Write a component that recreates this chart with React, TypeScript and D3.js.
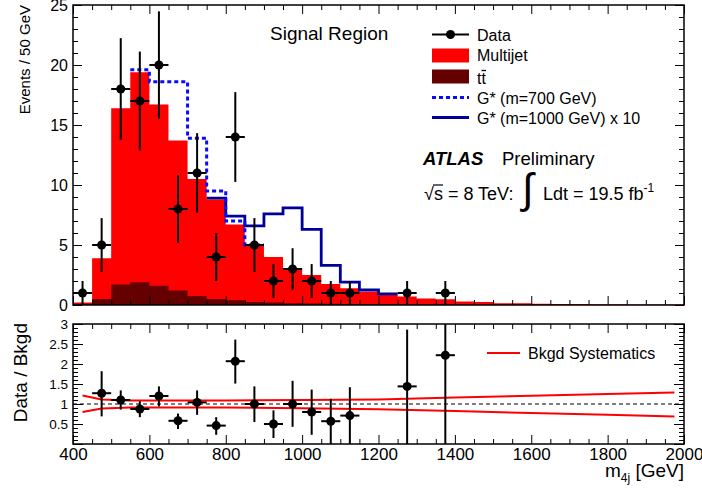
import React, { useRef, useEffect } from 'react';
import * as d3 from 'd3';

const FONT = '"Liberation Sans", Arial, Helvetica, sans-serif';

// 50 GeV bins, 400 - 2000 GeV. total background = multijet stacked on ttbar
const bkgTotal = [0.2, 3.9, 16.4, 19.4, 16.7, 13.7, 10.5, 8.8, 6.7, 5.0, 4.0, 2.97, 2.5, 1.75, 1.4, 1.1,
    0.85, 0.7, 0.55, 0.47, 0.3, 0.25, 0.15, 0.14, 0.11, 0.09, 0.08, 0.07, 0.06, 0.05, 0.05, 0.04];
const ttbar = [0.1, 0.5, 1.7, 1.9, 1.6, 1.2, 0.75, 0.5, 0.4, 0.25, 0.2, 0.15, 0.12, 0.1, 0.08, 0.07,
    0.06, 0.05, 0.04, 0.04, 0.03, 0.03, 0.02, 0.02, 0.02, 0.02, 0.01, 0.01, 0.01, 0.01, 0.01, 0.01];

// signal + background, only the bins where it shows above the stack
const g700Mass = [550, 600, 650, 700, 750, 800, 850];
const g700 = [19.6, 18.6, 18.6, 13.9, 9.5, 7.0, 5.0];
const g1000Mass = [750, 800, 850, 900, 950, 1000, 1050, 1100, 1150, 1200];
const g1000 = [8.9, 7.4, 6.6, 7.6, 8.1, 6.3, 3.3, 1.9, 1.25, 0.92];

const dataMass = [425, 475, 525, 575, 625, 675, 725, 775, 825, 875, 925, 975, 1025, 1075, 1125, 1275, 1375];
const dataEvents = [1, 5, 18, 17, 20, 8, 11, 4, 14, 5, 2, 3, 2, 1, 1, 1, 1];
const dataErr = [1, 2.24, 4.24, 4.12, 4.47, 2.83, 3.32, 2, 3.74, 2.24, 1.41, 1.73, 1.41, 1, 1, 1, 1];

const ratioMass = [475, 525, 575, 625, 675, 725, 775, 825, 875, 925, 975, 1025, 1075, 1125, 1275, 1375];
const ratioVal = [1.27, 1.10, 0.875, 1.2, 0.58, 1.04, 0.46, 2.07, 1.0, 0.5, 1.0, 0.8, 0.57, 0.71, 1.44, 2.22];
const ratioHi = [1.82, 1.34, 1.07, 1.44, 0.76, 1.34, 0.67, 2.61, 1.44, 0.84, 1.58, 1.36, 1.13, 1.42, 2.86, 3.2];
const ratioLo = [0.69, 0.86, 0.67, 0.94, 0.375, 0.73, 0.23, 1.51, 0.55, 0.15, 0.43, 0.23, 0, 0, 0, 0];

const systMass = [425, 475, 550, 800, 1000, 1200, 1400, 1600, 1800, 1975];
const systUp = [1.21, 1.11, 1.09, 1.09, 1.10, 1.11, 1.16, 1.205, 1.25, 1.29];
const systDown = [0.80, 0.89, 0.91, 0.91, 0.895, 0.87, 0.823, 0.776, 0.73, 0.69];

const xMajor = [400, 600, 800, 1000, 1200, 1400, 1600, 1800, 2000];

const App = () => {
    const ref = useRef<SVGSVGElement>(null);

    useEffect(() => {
        const svg = d3.select(ref.current);
        svg.selectAll("*").remove();

        const x = d3.scaleLinear().domain([400, 2000]).range([73, 684]);
        const yTop = d3.scaleLinear().domain([0, 25]).range([305, 5]);
        const yBot = d3.scaleLinear().domain([0, 3]).range([444, 324]);
        const binLow = d3.range(400, 2000, 50);
        const xMinor = d3.range(400, 2001, 50).filter(v => v % 200 !== 0);

        const histPts = (vals: number[]) => binLow.map((b, i) => ({ m: b, v: vals[i] }))
            .concat([{ m: 2000, v: vals[vals.length - 1] }]);
        const linePts = (mass: number[], vals: number[]) => mass.map((m, i) => ({ m, v: vals[i] }))
            .concat([{ m: mass[mass.length - 1] + 50, v: vals[vals.length - 1] }]);

        const area = d3.area<any>().curve(d3.curveStepAfter)
            .x(d => x(d.m)).y0(yTop(0)).y1(d => yTop(d.v));
        const stepLine = d3.line<any>().curve(d3.curveStepAfter)
            .x(d => x(d.m)).y(d => yTop(d.v));

        svg.append("path").datum(histPts(bkgTotal)).attr("fill", "#ff0000").attr("d", area);
        svg.append("path").datum(histPts(ttbar)).attr("fill", "#640000").attr("d", area);

        svg.append("path").datum(linePts(g1000Mass, g1000))
            .attr("fill", "none").attr("stroke", "#000099").attr("stroke-width", 2.8).attr("d", stepLine);
        svg.append("path").datum(linePts(g700Mass, g700))
            .attr("fill", "none").attr("stroke", "#0a0aff").attr("stroke-width", 3)
            .attr("stroke-dasharray", "4,3").attr("d", stepLine);

        // data points
        dataMass.forEach((m, i) => {
            const v = dataEvents[i], e = dataErr[i];
            svg.append("line").attr("x1", x(m)).attr("x2", x(m))
                .attr("y1", yTop(Math.max(0, v - e))).attr("y2", yTop(v + e))
                .attr("stroke", "black").attr("stroke-width", 2);
            svg.append("line").attr("x1", x(m - 25)).attr("x2", x(m + 25))
                .attr("y1", yTop(v)).attr("y2", yTop(v))
                .attr("stroke", "black").attr("stroke-width", 2);
            svg.append("circle").attr("cx", x(m)).attr("cy", yTop(v)).attr("r", 4.5).attr("fill", "black");
        });

        // ratio panel
        svg.append("line").attr("x1", x(400)).attr("x2", x(2000)).attr("y1", yBot(1)).attr("y2", yBot(1))
            .attr("stroke", "black").attr("stroke-width", 1).attr("stroke-dasharray", "4,3");
        const systLine = d3.line<number>().x((d, i) => x(systMass[i])).y(d => yBot(d));
        svg.append("path").datum(systUp).attr("fill", "none").attr("stroke", "#ff0000")
            .attr("stroke-width", 2).attr("d", systLine);
        svg.append("path").datum(systDown).attr("fill", "none").attr("stroke", "#ff0000")
            .attr("stroke-width", 2).attr("d", systLine);

        ratioMass.forEach((m, i) => {
            const v = ratioVal[i];
            svg.append("line").attr("x1", x(m)).attr("x2", x(m))
                .attr("y1", yBot(Math.max(0, ratioLo[i]))).attr("y2", yBot(Math.min(3, ratioHi[i])))
                .attr("stroke", "black").attr("stroke-width", 2);
            svg.append("line").attr("x1", x(m - 25)).attr("x2", x(m + 25))
                .attr("y1", yBot(v)).attr("y2", yBot(v))
                .attr("stroke", "black").attr("stroke-width", 2);
            svg.append("circle").attr("cx", x(m)).attr("cy", yBot(v)).attr("r", 4.5).attr("fill", "black");
        });

        // axes, ROOT style: ticks inside on all four sides
        const drawAxis = (axis: any, transform: string, size = 10) => {
            const g = svg.append("g").attr("transform", transform).call(axis);
            g.select(".domain").remove();
            g.attr("font-family", FONT).attr("font-size", size);
            return g;
        };
        const noLabel = () => "";

        // top panel
        drawAxis(d3.axisBottom(x).tickValues(xMajor).tickSize(-9).tickFormat(noLabel), "translate(0,305)");
        drawAxis(d3.axisBottom(x).tickValues(xMinor).tickSize(-5).tickFormat(noLabel), "translate(0,305)");
        drawAxis(d3.axisTop(x).tickValues(xMajor).tickSize(-9).tickFormat(noLabel), "translate(0,5)");
        drawAxis(d3.axisTop(x).tickValues(xMinor).tickSize(-5).tickFormat(noLabel), "translate(0,5)");
        drawAxis(d3.axisLeft(yTop).tickValues(d3.range(0, 26, 5)).tickSize(-9).tickPadding(5)
            .tickFormat(d => String(d)), "translate(73,0)", 16);
        drawAxis(d3.axisLeft(yTop).tickValues(d3.range(0, 26, 1)).tickSize(-5).tickFormat(noLabel), "translate(73,0)");
        drawAxis(d3.axisRight(yTop).tickValues(d3.range(0, 26, 5)).tickSize(-9).tickFormat(noLabel), "translate(684,0)");
        drawAxis(d3.axisRight(yTop).tickValues(d3.range(0, 26, 1)).tickSize(-5).tickFormat(noLabel), "translate(684,0)");

        // ratio panel
        const rMajor = [0, 0.5, 1, 1.5, 2, 2.5, 3];
        const rMinor = d3.range(0, 3.001, 0.1);
        drawAxis(d3.axisBottom(x).tickValues(xMajor).tickSize(-9).tickPadding(4)
            .tickFormat(d => String(d)), "translate(0,444)", 17);
        drawAxis(d3.axisBottom(x).tickValues(xMinor).tickSize(-5).tickFormat(noLabel), "translate(0,444)");
        drawAxis(d3.axisTop(x).tickValues(xMajor).tickSize(-9).tickFormat(noLabel), "translate(0,324)");
        drawAxis(d3.axisTop(x).tickValues(xMinor).tickSize(-5).tickFormat(noLabel), "translate(0,324)");
        drawAxis(d3.axisLeft(yBot).tickValues(rMajor).tickSize(-10).tickPadding(5)
            .tickFormat(d => (+d === 0 ? "" : String(d))), "translate(73,0)", 13.5);
        drawAxis(d3.axisLeft(yBot).tickValues(rMinor).tickSize(-5).tickFormat(noLabel), "translate(73,0)");
        drawAxis(d3.axisRight(yBot).tickValues(rMajor).tickSize(-10).tickFormat(noLabel), "translate(684,0)");
        drawAxis(d3.axisRight(yBot).tickValues(rMinor).tickSize(-5).tickFormat(noLabel), "translate(684,0)");

        // frames
        svg.append("rect").attr("x", x(400)).attr("y", yTop(25)).attr("width", x(2000) - x(400))
            .attr("height", yTop(0) - yTop(25)).attr("fill", "none").attr("stroke", "black").attr("stroke-width", 1.5);
        svg.append("rect").attr("x", x(400)).attr("y", yBot(3)).attr("width", x(2000) - x(400))
            .attr("height", yBot(0) - yBot(3)).attr("fill", "none").attr("stroke", "black").attr("stroke-width", 1.5);

        const text = (tx: number, ty: number, s: string, size: number) =>
            svg.append("text").attr("x", tx).attr("y", ty).attr("font-family", FONT)
                .attr("font-size", size).attr("fill", "black").text(s);

        // axis titles
        svg.append("text").attr("transform", "translate(29.5,5) rotate(-90)").attr("text-anchor", "end")
            .attr("font-family", FONT).attr("font-size", 15).text("Events / 50 GeV");
        svg.append("text").attr("transform", "translate(27,323) rotate(-90)").attr("text-anchor", "end")
            .attr("font-family", FONT).attr("font-size", 19).text("Data / Bkgd");
        const xt = svg.append("text").attr("x", 684).attr("y", 477).attr("text-anchor", "end")
            .attr("font-family", FONT).attr("font-size", 19);
        xt.append("tspan").text("m");
        xt.append("tspan").attr("dy", 5).attr("font-size", 12).text("4j");
        xt.append("tspan").attr("dy", -5).text(" [GeV]");

        text(270, 40, "Signal Region", 19);

        // legend
        const lx0 = 432, lx1 = 469, tx = 477;
        svg.append("line").attr("x1", lx0).attr("x2", lx1).attr("y1", 34.5).attr("y2", 34.5)
            .attr("stroke", "black").attr("stroke-width", 2);
        svg.append("circle").attr("cx", (lx0 + lx1) / 2).attr("cy", 34.5).attr("r", 4.5).attr("fill", "black");
        text(tx, 40.5, "Data", 16);
        svg.append("rect").attr("x", lx0).attr("y", 48.5).attr("width", lx1 - lx0).attr("height", 14).attr("fill", "#ff0000");
        text(tx, 61, "Multijet", 16);
        svg.append("rect").attr("x", lx0).attr("y", 69.5).attr("width", lx1 - lx0).attr("height", 14).attr("fill", "#640000");
        text(tx, 84, "tt", 16);
        svg.append("line").attr("x1", 481.5).attr("x2", 486).attr("y1", 70.5).attr("y2", 70.5)
            .attr("stroke", "black").attr("stroke-width", 1.3);
        svg.append("line").attr("x1", lx0).attr("x2", lx1).attr("y1", 97.5).attr("y2", 97.5)
            .attr("stroke", "#0a0aff").attr("stroke-width", 3).attr("stroke-dasharray", "4,3");
        text(tx, 104, "G* (m=700 GeV)", 16);
        svg.append("line").attr("x1", lx0).attr("x2", lx1).attr("y1", 117.5).attr("y2", 117.5)
            .attr("stroke", "#000099").attr("stroke-width", 2.8);
        text(tx, 124, "G* (m=1000 GeV) x 10", 16);

        // ATLAS label
        text(423, 165, "ATLAS", 18.5).attr("font-weight", "bold").attr("font-style", "italic");
        text(502, 165, "Preliminary", 18.5);
        text(424, 200, "\u221As = 8 TeV:", 18);
        svg.append("line").attr("x1", 433).attr("x2", 443).attr("y1", 185).attr("y2", 185)
            .attr("stroke", "black").attr("stroke-width", 1.2);
        text(522, 203, "\u222B", 42);
        const lum = text(543, 200, "Ldt = 19.5 fb", 18);
        lum.append("tspan").attr("dy", -8).attr("font-size", 12).text("-1");

        // ratio legend
        svg.append("line").attr("x1", 487).attr("x2", 520).attr("y1", 353).attr("y2", 353)
            .attr("stroke", "#ff0000").attr("stroke-width", 2);
        text(528, 358.5, "Bkgd Systematics", 16);
    }, []);

    return (
        <svg ref={ref} width={702} height={488}
            style={{ position: 'absolute', left: 0, top: 0, background: 'white' }} />
    );
};

export default App;
